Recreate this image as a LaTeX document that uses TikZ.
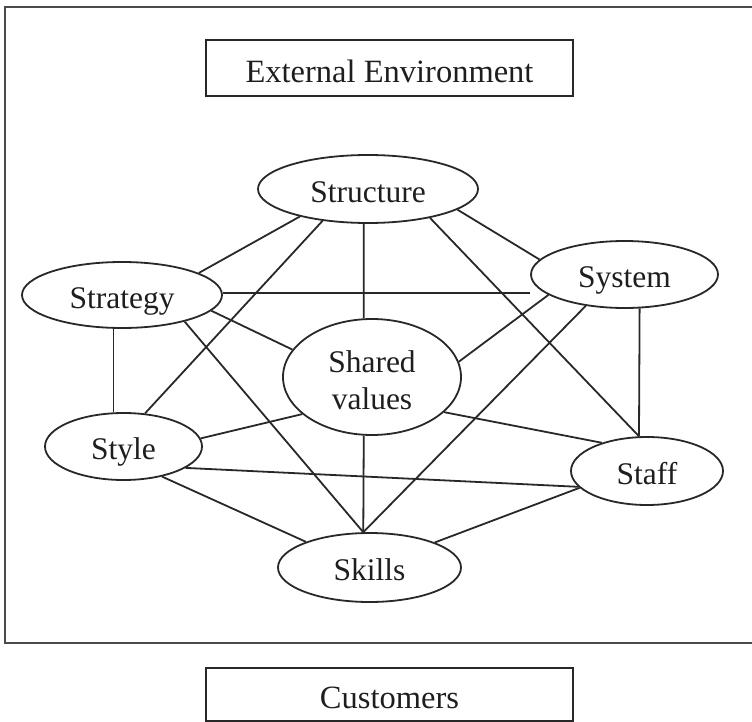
\documentclass[tikz,border=0pt]{standalone}
\usepackage{fontspec}
\setmainfont{Liberation Serif}
\usetikzlibrary{shapes.geometric}
\definecolor{inkcol}{RGB}{40,40,40}
\definecolor{framecol}{RGB}{75,75,75}
\definecolor{textcol}{RGB}{30,30,30}
\begin{document}
\begin{tikzpicture}[x=1pt,y=-1pt,
  link/.style={draw=inkcol, line width=1.8pt},
  factor/.style={ellipse, draw=inkcol, line width=1.8pt, inner sep=0pt,
    text=textcol, font=\fontsize{31.5}{37}\selectfont},
  oneline/.style={text height=26.5pt, text depth=0pt},
  labelbox/.style={rectangle, draw=inkcol, line width=1.8pt, inner sep=0pt,
    minimum width=367pt, text=textcol, font=\fontsize{32.5}{38}\selectfont,
    text height=28.5pt, text depth=0pt},
  frame/.style={draw=framecol, line width=2.2pt}
]
\useasboundingbox (0,0) rectangle (752,722);

% the organisation boundary, open on the right
\draw[frame] (753,7) -- (5,7) -- (5,643) -- (753,643);

% environment labels
\node[labelbox, minimum height=56pt] (env) at (389.5,68) {External Environment};
\node[labelbox, minimum height=53pt] (cust) at (389.5,694.5) {Customers};

% the seven factors
\node[factor, oneline, minimum width=220pt, minimum height=68pt] (structure) at (368,189) {Structure};
\node[factor, oneline, minimum width=200pt, minimum height=66pt] (strategy) at (122,295) {Strategy};
\node[factor, oneline, minimum width=187pt, minimum height=67pt] (system) at (624.5,274.5) {System};
% an invisible strut on the first line sets the two text lines a little lower
\node[factor, align=center, minimum width=178pt, minimum height=116pt] (shared) at (372,377) {\rule{0pt}{29pt}Shared\\values};
\node[factor, oneline, minimum width=157pt, minimum height=67pt] (style) at (123.5,446.5) {Style};
\node[factor, oneline, minimum width=183pt, minimum height=69pt] (skills) at (369.5,567.5) {Skills};
\node[factor, oneline, minimum width=152pt, minimum height=68pt] (staff) at (647,471) {Staff};

% links between the factors
\draw[link] (structure.202) -- (strategy.16);
\draw[link] (structure.215) -- (style.57);
\draw[link] (structure.263) -- (shared.98);
\draw[link] (structure.347) -- (system.170);
\draw[link] (structure.335) -- (staff.103);
\draw[link] (strategy.1.7) -- (strategy.1.7 -| system.west);
\draw[link] (strategy.256) -- (strategy.256 |- style.north);
\draw[link] (strategy.350) -- (shared.161);
\draw[link] (strategy.337) -- (skills.100);
\draw[link] (system.195) -- (shared.10);
\draw[link] (system.219) -- (skills.100);
\draw[link] (system.294) -- (staff.103);
\draw[link] (shared.334) -- (staff.148);
\draw[link] (shared.208) -- (style.6);
\draw[link] (shared.262) -- (skills.100);
\draw[link] (style.341) -- (staff.193);
\draw[link] (style.322) -- (skills.158);
\draw[link] (staff.194) -- (skills.21);
\end{tikzpicture}
\end{document}
